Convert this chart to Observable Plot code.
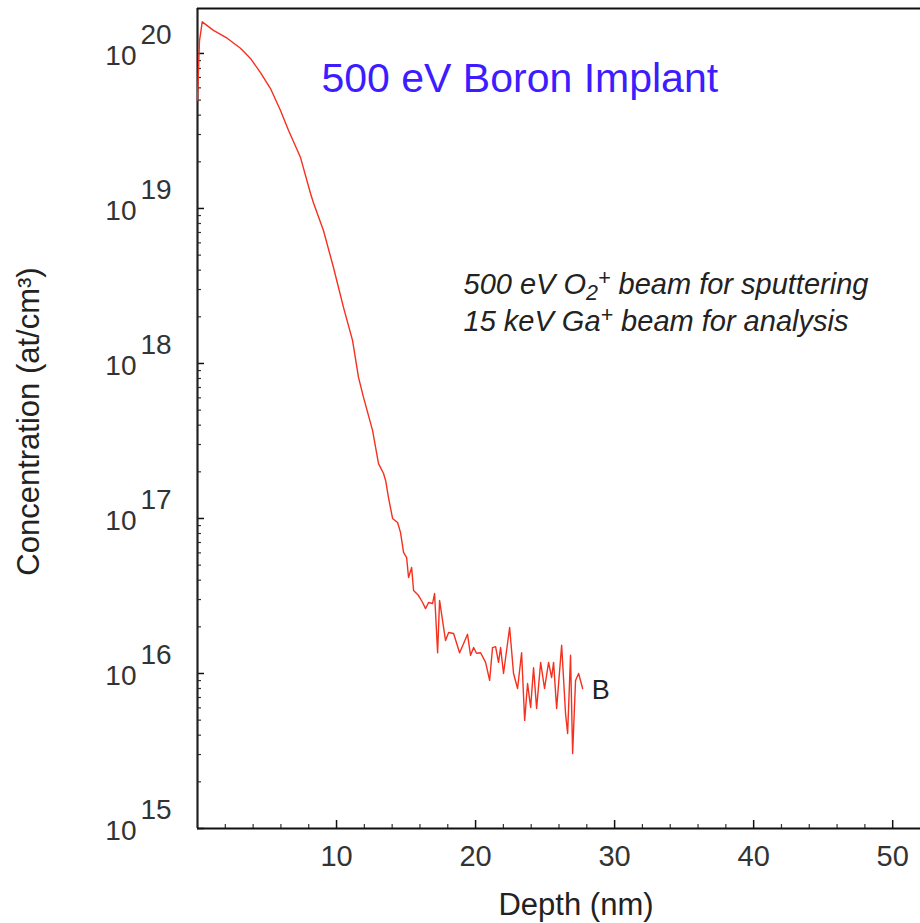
<!DOCTYPE html>
<html>
<head>
<meta charset="utf-8">
<script src="https://cdn.jsdelivr.net/npm/d3@7"></script>
<script src="https://cdn.jsdelivr.net/npm/@observablehq/plot@0.6"></script>
<style>
  html, body { margin: 0; padding: 0; background: #fff; }
  #chart svg { display: block; }
</style>
</head>
<body>
<div id="chart"></div>
<script>
// Depth (nm) and boron concentration (at/cm^3)
const depth = [0, 0.14, 0.34, 1.15, 2.16, 3.09, 3.81, 4.53, 5.25, 5.97,
  6.55, 7.41, 8.13, 8.35, 9.06, 9.78, 10.50, 11.15, 11.58,
  11.94, 12.59, 13.02, 13.38, 13.53, 13.74, 14.03, 14.39, 14.60, 14.82,
  15.04, 15.18, 15.40, 15.54, 15.90, 16.19, 16.40, 16.62, 16.91, 17.05,
  17.27, 17.41, 17.84, 18.06, 18.42, 18.85, 19.14, 19.42, 19.64, 19.86,
  20.07, 20.36, 20.72, 21.01, 21.22, 21.44, 21.65, 21.80, 22.01, 22.45,
  22.73, 23.02, 23.31, 23.53, 23.74, 23.96, 24.17, 24.39, 24.68, 24.96,
  25.25, 25.47, 25.61, 25.83, 26.19, 26.47, 26.62, 26.83, 26.98, 27.19,
  27.41, 27.70];
const concentration = [5.0e19, 1.2e20, 1.6e20, 1.41e20, 1.25e20, 1.08e20, 9.29e19, 7.53e19, 5.94e19, 4.29e19,
  3.18e19, 2.13e19, 1.25e19, 1.08e19, 7.21e18, 4.16e18, 2.30e18, 1.41e18, 8.13e17,
  6.04e17, 3.70e17, 2.26e17, 1.95e17, 1.76e17, 1.36e17, 1.00e17, 9.42e16, 8.13e16, 6.04e16,
  5.60e16, 4.16e16, 4.83e16, 3.43e16, 3.18e16, 2.87e16, 2.62e16, 2.87e16, 2.83e16, 3.28e16,
  1.36e16, 2.96e16, 1.63e16, 1.84e16, 1.81e16, 1.36e16, 1.56e16, 1.79e16, 1.31e16, 1.47e16,
  1.35e16, 1.36e16, 1.18e16, 9.02e15, 1.47e16, 1.49e16, 1.18e16, 1.47e16, 1.00e16, 1.98e16,
  1.00e16, 8.0e15, 1.36e16, 4.98e15, 8.61e15, 6.04e15, 1.09e16, 5.94e15, 1.18e16, 8.0e15,
  1.18e16, 9.42e15, 1.18e16, 5.94e15, 1.52e16, 5.52e15, 4.10e15, 1.31e16, 3.05e15, 9.02e15,
  1.00e16, 8.0e15];

const seriesLabel = "B";
const titleText = "500 eV Boron Implant";
// annotation lines as [text, role] segments: role "sub"/"sup" for sub- and superscripts
const noteLine1 = [["500 eV O", ""], ["2", "sub"], ["+", "sup"], [" beam for sputtering", ""]];
const noteLine2 = [["15 keV Ga", ""], ["+", "sup"], [" beam for analysis", ""]];
const xTickLabels = [10, 20, 30, 40, 50];
const yExponents = [15, 16, 17, 18, 19, 20];
const xDomain = [0, 52];
const yDomain = [1e15, 1.95e20];

const data = depth.map((d, i) => ({depth: d, conc: concentration[i]}));

const W = 920, H = 923;
const mL = 197, mR = 0, mT = 8, mB = 95;
const pw = W - mL - mR, ph = H - mT - mB;
const font = "'Liberation Sans', Arial, Helvetica, sans-serif";

const xMinor = d3.range(2, 52, 2).filter(v => v % 10 !== 0);
const yMajor = yExponents.map(e => Math.pow(10, e));
const yMinor = [];
for (const e of yExponents) for (let m = 2; m <= 9; m++) {
  const v = m * Math.pow(10, e);
  if (v <= yDomain[1]) yMinor.push(v);
}
const last = data[data.length - 1];
const plain = segs => segs.map(s => s[0]).join("");

const chart = Plot.plot({
  width: W, height: H,
  marginLeft: mL, marginRight: mR, marginTop: mT, marginBottom: mB,
  style: {fontFamily: font, background: "#fff", overflow: "visible"},
  x: {domain: xDomain, axis: null},
  y: {type: "log", domain: yDomain, axis: null},
  marks: [
    // ticks (inward)
    Plot.tickY(yMajor, {y: d => d, insetRight: pw - 7, stroke: "#111", strokeWidth: 1.5}),
    Plot.tickY(yMinor, {y: d => d, insetRight: pw - 4, stroke: "#333", strokeWidth: 1.2}),
    Plot.tickX(xTickLabels, {x: d => d, insetTop: ph - 8, stroke: "#111", strokeWidth: 1.5}),
    Plot.tickX(xMinor, {x: d => d, insetTop: ph - 4, stroke: "#333", strokeWidth: 1.2}),
    // frame lines
    Plot.ruleX([xDomain[0]], {stroke: "#222", strokeWidth: 2.2}),
    Plot.ruleY([yDomain[0], yDomain[1]], {stroke: "#111", strokeWidth: 2.2}),
    // data
    Plot.line(data, {x: "depth", y: "conc", stroke: "#f5301e", strokeWidth: 1.4}),
    Plot.text([last], {x: "depth", y: "conc", text: () => seriesLabel, textAnchor: "start", dx: 9, dy: 2,
      fontSize: 27, fill: "#222"}),
    // x tick labels
    Plot.text(xTickLabels, {x: d => d, text: d => String(d), frameAnchor: "bottom", lineAnchor: "middle",
      dy: 28, fontSize: 29, fill: "#333"}),
    // y tick labels 10^n
    Plot.text(yExponents, {y: d => Math.pow(10, d), text: () => "10", frameAnchor: "left",
      textAnchor: "end", lineAnchor: "middle", dx: -61, dy: 3, fontSize: 28, fill: "#333"}),
    Plot.text(yExponents, {y: d => Math.pow(10, d), text: d => String(d), frameAnchor: "left",
      textAnchor: "start", lineAnchor: "middle", dx: -57, dy: -18, fontSize: 28, fill: "#333"}),
    // axis titles
    Plot.text(["Depth (nm)"], {frameAnchor: "bottom", lineAnchor: "middle", textAnchor: "middle",
      dx: 17, dy: 77, fontSize: 31, fill: "#222"}),
    Plot.text(["Concentration (at/cm\u00B3)"], {frameAnchor: "left", textAnchor: "middle", lineAnchor: "middle",
      dx: -168, dy: 3, rotate: -90, fontSize: 31, fill: "#222"}),
    // title
    Plot.text([titleText], {frameAnchor: "top-left", dx: 124, dy: 70, textAnchor: "start", lineAnchor: "middle",
      fontSize: 41, fill: "#3d1cff"}),
    // annotation
    Plot.text([plain(noteLine1)], {frameAnchor: "top-left", dx: 266, dy: 276, textAnchor: "start",
      lineAnchor: "middle", fontSize: 29, fontStyle: "italic", fill: "#222"}),
    Plot.text([plain(noteLine2)], {frameAnchor: "top-left", dx: 266, dy: 313, textAnchor: "start",
      lineAnchor: "middle", fontSize: 29, fontStyle: "italic", fill: "#222"})
  ]
});

// rebuild the annotation texts with real sub/superscript tspans
for (const segs of [noteLine1, noteLine2]) {
  const s = plain(segs);
  d3.select(chart).selectAll("text").filter(function() { return this.textContent === s; })
    .each(function() {
      const t = d3.select(this);
      t.text(null);
      let shift = 0;
      for (const [str, role] of segs) {
        const target = role === "sub" ? 6 : role === "sup" ? -9 : 0;
        const sp = t.append("tspan").text(str).attr("dy", target - shift);
        if (role) sp.attr("font-size", "0.74em");
        shift = target;
      }
    });
}
document.getElementById("chart").appendChild(chart);
</script>
</body>
</html>
